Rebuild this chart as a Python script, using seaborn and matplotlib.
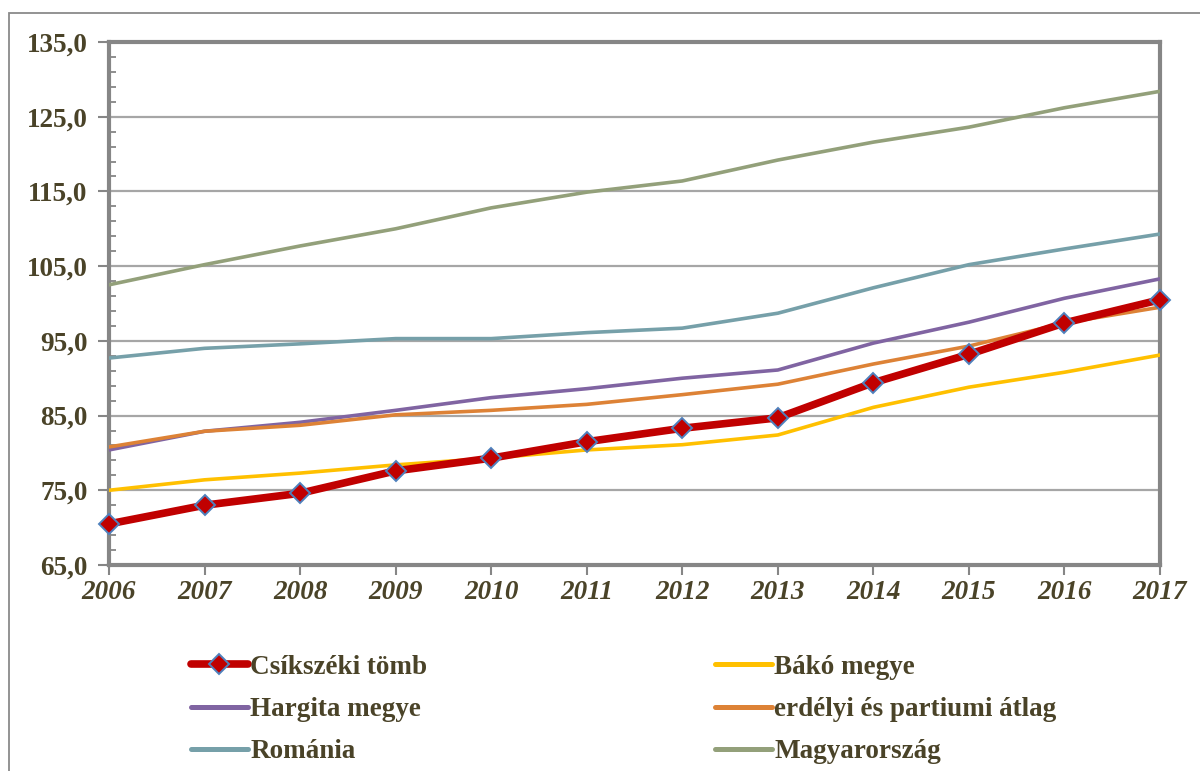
import matplotlib
matplotlib.use("Agg")
import matplotlib.pyplot as plt
import seaborn as sns
import pandas as pd
from matplotlib.lines import Line2D
from matplotlib.patches import Rectangle
from matplotlib.ticker import FixedLocator, FuncFormatter

years = [2006, 2007, 2008, 2009, 2010, 2011, 2012, 2013, 2014, 2015, 2016, 2017]
csikszeki = [70.5, 73.0, 74.6, 77.6, 79.3, 81.5, 83.3, 84.7, 89.4, 93.2, 97.4, 100.5]
bako = [75.0, 76.4, 77.3, 78.4, 79.3, 80.4, 81.1, 82.4, 86.1, 88.8, 90.8, 93.1]
hargita = [80.4, 82.9, 84.1, 85.7, 87.4, 88.6, 90.0, 91.1, 94.7, 97.5, 100.7, 103.3]
erdelyi = [80.8, 82.9, 83.7, 85.1, 85.7, 86.5, 87.8, 89.2, 91.9, 94.3, 97.4, 99.5]
romania = [92.7, 94.0, 94.6, 95.3, 95.3, 96.1, 96.7, 98.7, 102.1, 105.2, 107.3, 109.3]
magyar = [102.5, 105.2, 107.7, 110.0, 112.8, 114.9, 116.4, 119.2, 121.6, 123.6, 126.2, 128.4]

y_major = [65, 75, 85, 95, 105, 115, 125, 135]
y_minor = list(range(67, 135, 2))

names = ["Csíkszéki tömb", "Bákó megye", "Hargita megye",
         "erdélyi és partiumi átlag", "Románia", "Magyarország"]
series = [csikszeki, bako, hargita, erdelyi, romania, magyar]
colors = ["#c00000", "#ffc000", "#8064a2", "#dd8236", "#76a0a9", "#93a07a"]
widths = [5.5, 2.6, 2.6, 2.6, 2.6, 2.6]

TEXT = "#4a4328"
GRAY = "#868686"

sns.set_theme(style="white")
plt.rcParams["font.family"] = ["Liberation Serif", "DejaVu Serif"]
plt.rcParams["font.weight"] = "bold"

fig = plt.figure(figsize=(12, 7.71), dpi=100)
ax = fig.add_axes([109 / 1200, 1 - 565 / 771, (1160 - 109) / 1200, (565 - 42) / 771])

# outer frame
fig.patches.append(Rectangle((8.5 / 1200, -0.1), 1.2, 1 - 12.5 / 771 + 0.1,
                             transform=fig.transFigure, fill=False,
                             edgecolor="#8a8a8a", linewidth=1.3, zorder=0))

draw_order = [5, 4, 2, 3, 1, 0]
handles = {}
for i in draw_order:
    df = pd.DataFrame({"year": years, "value": series[i]})
    if i == 0:
        sns.lineplot(data=df, x="year", y="value", ax=ax, color=colors[i],
                     linewidth=widths[i], marker="D", markersize=10,
                     markerfacecolor="#c00000", markeredgecolor="#4f81bd",
                     markeredgewidth=1.4, zorder=10, clip_on=False)
        handles[i] = Line2D([], [], color=colors[i], linewidth=widths[i],
                            marker="D", markersize=10, markerfacecolor="#c00000",
                            markeredgecolor="#4f81bd", markeredgewidth=1.4,
                            solid_capstyle="round")
    else:
        sns.lineplot(data=df, x="year", y="value", ax=ax, color=colors[i],
                     linewidth=widths[i], zorder=5 + i)
        handles[i] = Line2D([], [], color=colors[i], linewidth=widths[i] + 1,
                            solid_capstyle="round")

ax.set_xlim(2006, 2017)
ax.set_ylim(65, 135)
ax.set_xticks(years)
ax.set_xticklabels([str(y) for y in years])
ax.yaxis.set_major_locator(FixedLocator(y_major))
ax.yaxis.set_minor_locator(FixedLocator(y_minor))
ax.yaxis.set_major_formatter(FuncFormatter(lambda v, p: f"{v:.1f}".replace(".", ",")))
ax.set_xlabel("")
ax.set_ylabel("")

ax.grid(axis="y", which="major", color="#a6a6a6", linewidth=1.6, zorder=0)
ax.set_axisbelow(True)

for s in ax.spines.values():
    s.set_visible(True)
    s.set_color(GRAY)
    s.set_linewidth(3)

ax.tick_params(axis="y", which="major", direction="out", length=8, width=1.5,
               color=GRAY, labelsize=19.5, labelcolor=TEXT, pad=7.5, left=True)
ax.tick_params(axis="y", which="minor", direction="in", length=5, width=1.3,
               color=GRAY, left=True)
ax.tick_params(axis="x", which="major", direction="out", length=7, width=1.5,
               color=GRAY, labelsize=19.5, labelcolor=TEXT, pad=4, bottom=True)
for lbl in ax.get_yticklabels():
    lbl.set_fontweight("bold")
for lbl in ax.get_xticklabels():
    lbl.set_fontweight("bold")
    lbl.set_fontstyle("italic")

order = [0, 2, 4, 1, 3, 5]
leg = fig.legend([handles[i] for i in order], [names[i] for i in order],
                 ncol=2, loc="upper left", bbox_to_anchor=(180 / 1200, 1 - 644 / 771),
                 frameon=False, prop={"family": "Liberation Serif", "weight": "bold", "size": 19.5},
                 handlelength=2.1, handletextpad=0.1, labelspacing=0.64,
                 columnspacing=10.6, borderaxespad=0)
for t in leg.get_texts():
    t.set_color(TEXT)

fig.savefig("out.png", dpi=100)
